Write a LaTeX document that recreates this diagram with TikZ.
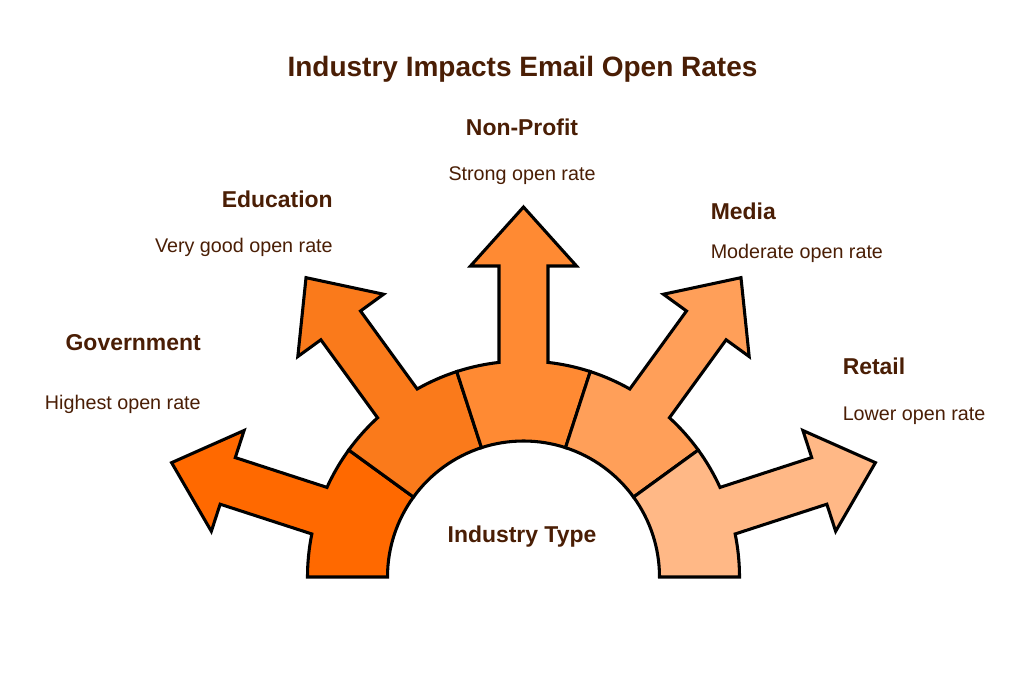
\documentclass[tikz,border=0pt]{standalone}
\usepackage{fontspec}
\setmainfont{Liberation Sans}
\definecolor{txt}{HTML}{4A1E05}
\definecolor{cgov}{HTML}{FF6900}
\definecolor{cedu}{HTML}{FA7A1B}
\definecolor{cnon}{HTML}{FF8A33}
\definecolor{cmed}{HTML}{FF9F59}
\definecolor{cret}{HTML}{FFB886}
\newcommand{\segarrow}[2]{%
  \begin{scope}[shift={(523.5,-577)}, rotate=#1]
    \draw[segshape, fill=#2]
      (72:136) -- (72:216) arc[start angle=72, end angle=83.49, radius=216]
      -- (24.5,311) -- (53,311) -- (0,370) -- (-53,311) -- (-24.5,311)
      -- (96.51:216) arc[start angle=96.51, end angle=108, radius=216]
      -- (108:136) arc[start angle=108, end angle=72, radius=136] -- cycle;
  \end{scope}}
\tikzset{
  segshape/.style={draw=black, line width=2.3pt, line join=miter},
  titletxt/.style={text=txt, font=\fontsize{21}{25}\selectfont\bfseries, inner sep=0pt},
  headtxt/.style={text=txt, font=\fontsize{17.2}{20}\selectfont\bfseries, inner sep=0pt},
  desctxt/.style={text=txt, font=\fontsize{14.8}{18}\selectfont, inner sep=0pt}
}
\begin{document}
\begin{tikzpicture}[x=0.75pt, y=0.75pt]
\useasboundingbox (0,0) rectangle (1032,-673);
\fill[white] (0,0) rectangle (1032,-673);
\segarrow{72}{cgov}
\segarrow{36}{cedu}
\segarrow{0}{cnon}
\segarrow{-36}{cmed}
\segarrow{-72}{cret}
\node[titletxt, anchor=base] (title) at (522.5,-77) {Industry Impacts Email Open Rates};
\node[headtxt, anchor=base] (center) at (522,-542.5) {Industry Type};
\node[headtxt, anchor=base] (nonh) at (522,-136) {Non-Profit};
\node[desctxt, anchor=base] (nond) at (522,-181) {Strong open rate};
\node[headtxt, anchor=base east] (eduh) at (333,-207.5) {Education};
\node[desctxt, anchor=base east] (edud) at (333,-252.5) {Very good open rate};
\node[headtxt, anchor=base east] (govh) at (201,-350.5) {Government};
\node[desctxt, anchor=base east] (govd) at (201,-410) {Highest open rate};
\node[headtxt, anchor=base west] (medh) at (710.5,-219.3) {Media};
\node[desctxt, anchor=base west] (medd) at (710.5,-259) {Moderate open rate};
\node[headtxt, anchor=base west] (reth) at (842.5,-375) {Retail};
\node[desctxt, anchor=base west] (retd) at (842.5,-420.5) {Lower open rate};
\end{tikzpicture}
\end{document}
